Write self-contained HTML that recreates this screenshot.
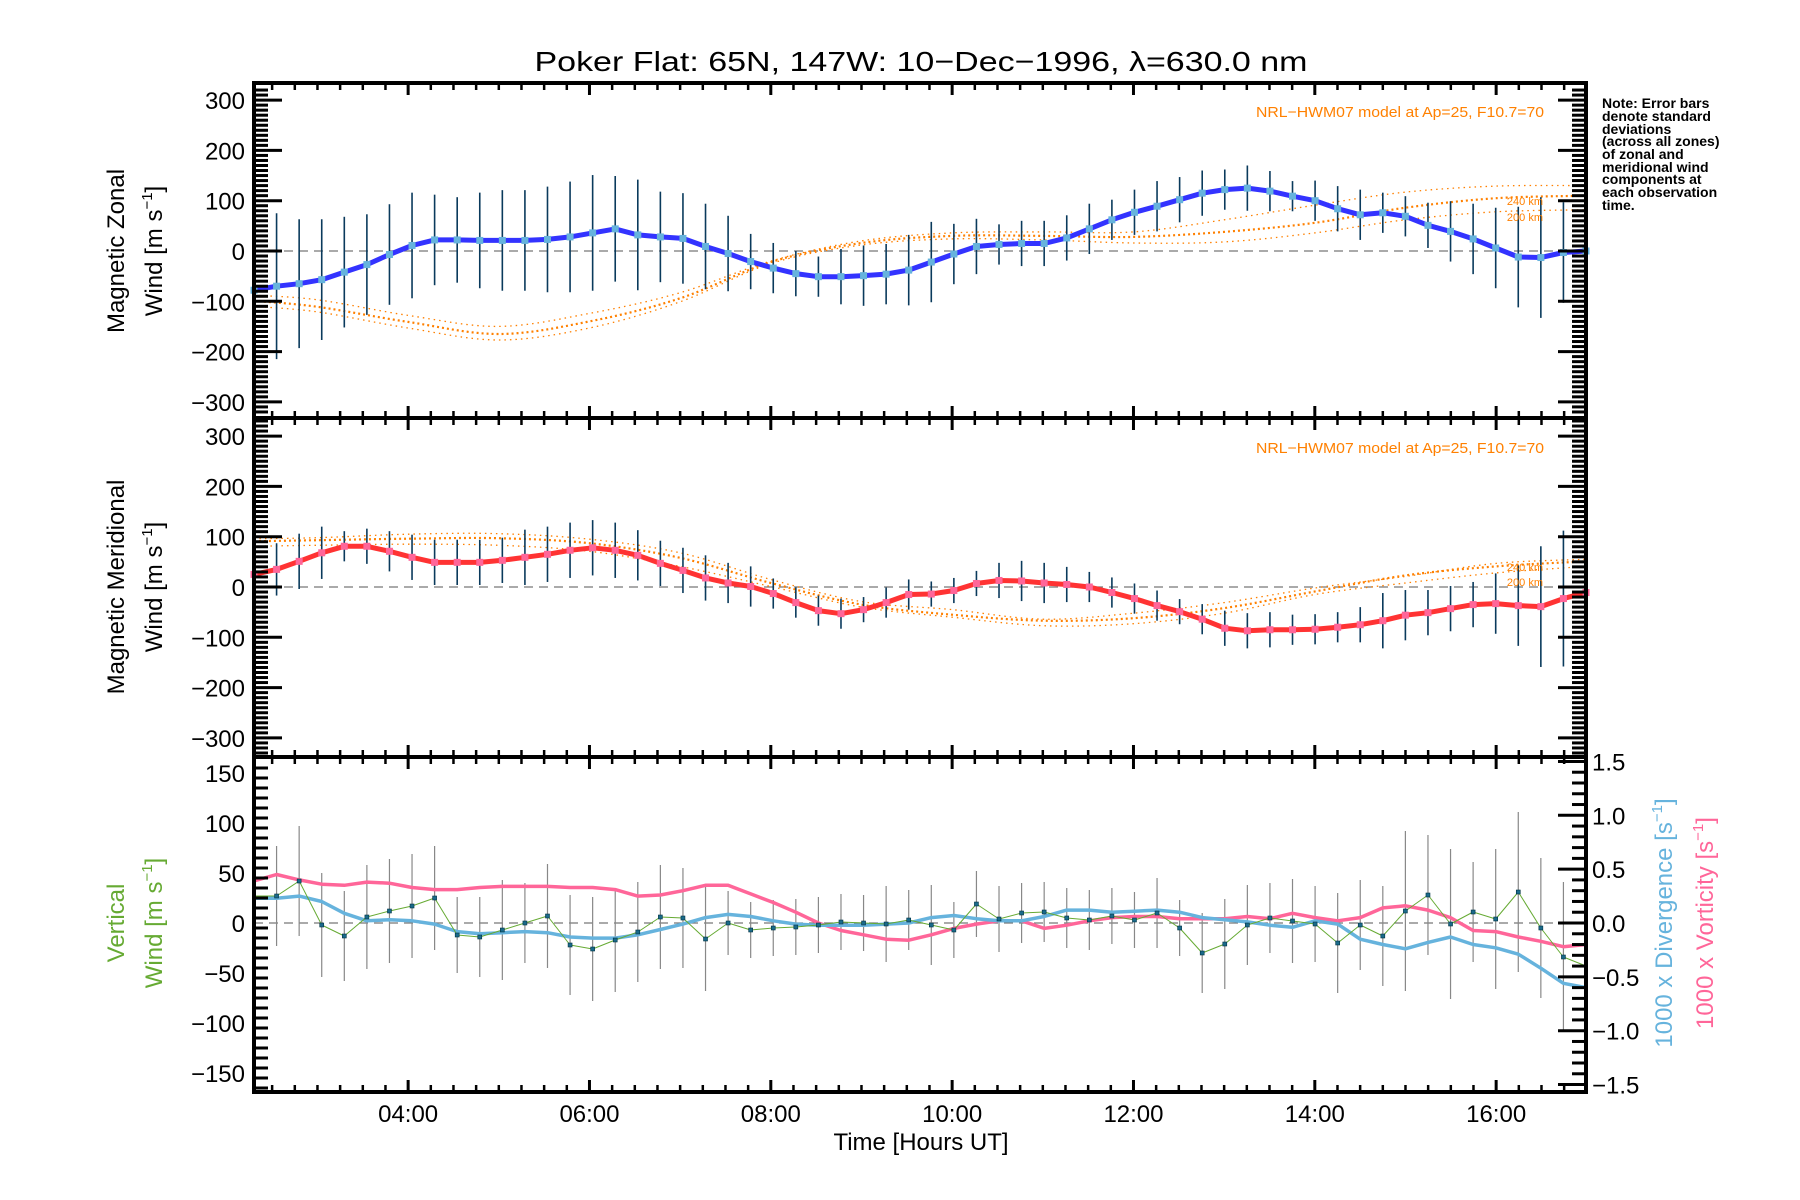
<!DOCTYPE html>
<html><head><meta charset="utf-8"><style>
html,body{margin:0;padding:0;background:#fff;}
svg{display:block;font-family:"Liberation Sans",sans-serif;}
</style></head><body>
<svg id="chart" width="1800" height="1200" viewBox="0 0 1800 1200" xmlns="http://www.w3.org/2000/svg">
<rect x="0" y="0" width="1800" height="1200" fill="#fff"/>
<text x="921" y="71" font-size="28" text-anchor="middle" textLength="773" lengthAdjust="spacingAndGlyphs">Poker Flat: 65N, 147W: 10−Dec−1996, λ=630.0 nm</text>
<g id="plots"></g>
<g id="labels">
<text transform="translate(124,251) rotate(-90)" font-size="24" text-anchor="middle">Magnetic Zonal</text>
<text transform="translate(162,251) rotate(-90)" font-size="24" text-anchor="middle">Wind [m s<tspan dy="-10" font-size="15">−1</tspan><tspan dy="10">]</tspan></text>
<text transform="translate(124,587) rotate(-90)" font-size="24" text-anchor="middle">Magnetic Meridional</text>
<text transform="translate(162,587) rotate(-90)" font-size="24" text-anchor="middle">Wind [m s<tspan dy="-10" font-size="15">−1</tspan><tspan dy="10">]</tspan></text>
<text transform="translate(124,923) rotate(-90)" font-size="24" text-anchor="middle" fill="#66aa33">Vertical</text>
<text transform="translate(162,923) rotate(-90)" font-size="24" text-anchor="middle" fill="#66aa33">Wind [m s<tspan dy="-10" font-size="15">−1</tspan><tspan dy="10">]</tspan></text>
<text transform="translate(1672,923) rotate(-90)" font-size="24" text-anchor="middle" fill="#66b3dd">1000 x Divergence [s<tspan dy="-10" font-size="15">−1</tspan><tspan dy="10">]</tspan></text>
<text transform="translate(1713,923) rotate(-90)" font-size="24" text-anchor="middle" fill="#ff6699">1000 x Vorticity [s<tspan dy="-10" font-size="15">−1</tspan><tspan dy="10">]</tspan></text>
<text x="921" y="1150" font-size="24" text-anchor="middle">Time [Hours UT]</text>
<text x="1256" y="117" font-size="15" fill="#ff8000" textLength="288" lengthAdjust="spacingAndGlyphs">NRL−HWM07 model at Ap=25, F10.7=70</text>
<text x="1256" y="453" font-size="15" fill="#ff8000" textLength="288" lengthAdjust="spacingAndGlyphs">NRL−HWM07 model at Ap=25, F10.7=70</text>
<text x="1543" y="205" font-size="11" fill="#ff8000" text-anchor="end">240 km</text>
<text x="1543" y="221" font-size="11" fill="#ff8000" text-anchor="end">200 km</text>
<text x="1543" y="571" font-size="11" fill="#ff8000" text-anchor="end">240 km</text>
<text x="1543" y="586" font-size="11" fill="#ff8000" text-anchor="end">200 km</text>
<g font-size="14" font-weight="bold">
<text x="1602" y="108">Note: Error bars</text>
<text x="1602" y="121">denote standard</text>
<text x="1602" y="134">deviations</text>
<text x="1602" y="146">(across all zones)</text>
<text x="1602" y="159">of zonal and</text>
<text x="1602" y="172">meridional wind</text>
<text x="1602" y="184">components at</text>
<text x="1602" y="197">each observation</text>
<text x="1602" y="210">time.</text>
</g>
</g>
</svg>
<script>
// ---- data ----
const zonalWind = [-78,-70,-65,-57,-42,-27,-7,11,22,22,21,21,21,23,28,36,44,32,28,25,9,-5,-21,-34,-45,-51,-51,-49,-46,-38,-22,-6,9,13,15,15,26,44,62,77,89,102,115,122,125,119,109,100,84,72,76,69,51,39,24,6,-12,-13,-3,0];
const zonalErr = [140,145,128,120,110,100,100,105,90,85,95,100,100,105,110,115,105,110,90,90,85,75,55,50,45,40,55,60,60,70,80,60,55,40,45,45,45,50,40,45,50,45,45,40,45,40,30,40,45,50,40,40,45,60,70,80,100,120,100,90];
const meridWind = [25,35,51,68,81,81,71,59,49,49,49,53,59,65,73,78,73,63,47,33,18,8,1,-13,-31,-47,-53,-45,-31,-15,-14,-7,7,13,12,8,5,0,-11,-23,-37,-49,-64,-82,-87,-85,-85,-84,-80,-75,-67,-56,-51,-43,-35,-33,-37,-39,-23,-11];
const meridErr = [45,52,55,52,30,35,40,45,45,45,45,45,55,55,55,55,55,50,45,45,45,40,40,30,30,30,30,25,30,30,25,25,25,35,40,40,35,30,30,30,30,25,30,35,35,35,30,30,30,35,55,50,45,45,45,60,80,120,135,120];
const vertWind = [27,27,42,-2,-13,6,12,17,25,-12,-14,-7,0,7,-22,-26,-17,-9,6,5,-16,0,-7,-5,-4,-2,1,0,-1,3,-2,-7,19,4,10,11,5,3,7,3,10,-5,-30,-21,-2,5,2,-1,-20,-2,-13,12,28,-1,11,4,31,-5,-34,-43];
const vertErr = [50,50,55,52,45,52,52,52,52,38,40,50,40,52,50,52,52,50,52,50,52,32,28,28,28,28,28,28,38,30,40,28,33,33,30,30,30,30,28,28,35,28,40,45,40,35,42,38,50,45,50,80,60,75,50,70,80,70,75,60];
const divergence = [0.23,0.23,0.25,0.2,0.09,0.02,0.03,0.02,-0.01,-0.08,-0.1,-0.09,-0.08,-0.09,-0.13,-0.14,-0.14,-0.11,-0.06,-0.01,0.05,0.08,0.06,0.02,-0.01,-0.02,-0.02,-0.02,-0.01,0,0.05,0.07,0.04,0.02,0.02,0.06,0.12,0.12,0.1,0.11,0.12,0.1,0.05,0.03,0.01,-0.02,-0.04,0.02,-0.01,-0.15,-0.2,-0.24,-0.18,-0.13,-0.2,-0.23,-0.29,-0.42,-0.56,-0.6];
const vorticity = [0.39,0.45,0.4,0.36,0.35,0.38,0.37,0.33,0.31,0.31,0.33,0.34,0.34,0.34,0.33,0.33,0.31,0.25,0.26,0.3,0.35,0.35,0.27,0.19,0.1,0,-0.07,-0.11,-0.15,-0.16,-0.11,-0.05,-0.01,0.02,0.02,-0.05,-0.02,0.02,0.05,0.06,0.06,0.04,0.04,0.04,0.06,0.04,0.09,0.05,0.02,0.05,0.14,0.16,0.12,0.05,-0.07,-0.08,-0.13,-0.17,-0.22,-0.2];
const modelTimes = [2.3,3,4,5,6,7,8,9,10,11,12,13,14,15,16,17];
const zonalModelUpper = [-88,-97,-128,-150,-124,-83,-20,20,36,38,38,62,91,117,129,130];
const zonalModel240 = [-99,-111,-141,-165,-140,-94,-22,16,30,30,28,38,56,86,105,110];
const zonalModel200 = [-110,-121,-153,-177,-153,-101,-25,12,24,22,16,18,36,62,78,82];
const meridModelUpper = [96,98,105,106,95,68,15,-29,-45,-64,-52,-31,-2,21,47,55];
const meridModel240 = [91,93,96,97,87,58,8,-35,-55,-67,-62,-42,-9,23,41,51];
const meridModel200 = [81,83,85,83,71,41,1,-40,-60,-77,-73,-52,-15,8,28,41];
const hourTicks = [4,6,8,10,12,14,16];
const hourLabels = ["04:00","06:00","08:00","10:00","12:00","14:00","16:00"];
const windTicks = [300,200,100,0,-100,-200,-300];
const vertTicks = [150,100,50,0,-50,-100,-150];
const rightTicks = [1.5,1.0,0.5,0.0,-0.5,-1.0,-1.5];
const rightLabels = ["1.5","1.0","0.5","0.0","−0.5","−1.0","−1.5"];
const tStart = 2.30, tStep = 0.249;

// ---- geometry ----
const L = 254, R = 1586;
const tEnd = tStart + tStep * 59;
const X = t => L + (t - tStart) / (tEnd - tStart) * (R - L);
const P = [
  {top: 83, bot: 418, zero: 251, k: 0.503},
  {top: 418, bot: 757, zero: 587, k: 0.503},
  {top: 757, bot: 1092, zero: 923, k: 1.0}
];
const Y = (p, v) => p.zero - v * p.k;
const YR = v => 923 - v * 107.7;
const times = zonalWind.map((_, i) => tStart + i * tStep);
const NS = "http://www.w3.org/2000/svg";
const root = document.getElementById('plots');
function mk(tag, attrs, parent) {
  const e = document.createElementNS(NS, tag);
  for (const k in attrs) e.setAttribute(k, attrs[k]);
  (parent || root).appendChild(e);
  return e;
}
function pathFrom(xs, ys) { return xs.map((x, i) => (i ? 'L' : 'M') + x.toFixed(1) + ' ' + ys[i].toFixed(1)).join(' '); }
function smoothPath(xs, ys) {
  let d = 'M' + xs[0] + ' ' + ys[0];
  for (let i = 0; i < xs.length - 1; i++) {
    const x0 = xs[Math.max(i - 1, 0)], y0 = ys[Math.max(i - 1, 0)];
    const x3 = xs[Math.min(i + 2, xs.length - 1)], y3 = ys[Math.min(i + 2, xs.length - 1)];
    const c1x = xs[i] + (xs[i + 1] - x0) / 6, c1y = ys[i] + (ys[i + 1] - y0) / 6;
    const c2x = xs[i + 1] - (x3 - xs[i]) / 6, c2y = ys[i + 1] - (y3 - ys[i]) / 6;
    d += ' C' + c1x.toFixed(1) + ' ' + c1y.toFixed(1) + ' ' + c2x.toFixed(1) + ' ' + c2y.toFixed(1) + ' ' + xs[i + 1].toFixed(1) + ' ' + ys[i + 1].toFixed(1);
  }
  return d;
}

// zero lines
P.forEach((p, pi) => {
  const z = mk('line', {x1: L, x2: R, y1: p.zero, y2: p.zero, stroke: '#777', 'stroke-width': 1.3, 'stroke-dasharray': '9 6'});
  
  
});

// model lines
function modelLine(arr, p, name, w, dash) {
  const e = mk('path', {d: smoothPath(modelTimes.map(X), arr.map(v => Y(p, v))), fill: 'none', stroke: '#ff8000', 'stroke-width': w, 'stroke-dasharray': dash});
  
  
}
modelLine(zonalModelUpper, P[0], 'zonal-model-upper', 1.3, '1.5 4');
modelLine(zonalModel240, P[0], 'zonal-model-240km', 2.2, '2 3');
modelLine(zonalModel200, P[0], 'zonal-model-200km', 1.3, '1.5 4');
modelLine(meridModelUpper, P[1], 'meridional-model-upper', 1.3, '1.5 4');
modelLine(meridModel240, P[1], 'meridional-model-240km', 2.2, '2 3');
modelLine(meridModel200, P[1], 'meridional-model-200km', 1.3, '1.5 4');

// error bars
function errBars(vals, errs, p, color, w, name) {
  const g = mk('g', {});
  
  
  vals.forEach((v, i) => {
    if (i === 0 || i === vals.length - 1) return;
    const x = X(times[i]);
    const top = Math.max(Y(p, v + errs[i]), p.top), bot = Math.min(Y(p, v - errs[i]), p.bot);
    const b = mk('line', {x1: x, x2: x, y1: top, y2: bot, stroke: color, 'stroke-width': w}, g);
    
    
  });
}
errBars(zonalWind, zonalErr, P[0], '#0a3a5c', 1.6, 'zonal-error-bars');
errBars(meridWind, meridErr, P[1], '#0a3a5c', 1.6, 'meridional-error-bars');
errBars(vertWind, vertErr, P[2], '#888', 1.2, 'vertical-error-bars');

// main lines
function series(vals, yf, color, w, name, dotColor, dotSize) {
  const xs = times.map(X), ys = vals.map(yf);
  const e = mk('path', {d: pathFrom(xs, ys), fill: 'none', stroke: color, 'stroke-width': w, 'stroke-linejoin': 'round'});
  
  
  if (dotColor) {
    const g = mk('g', {});
    
    
    xs.forEach((x, i) => {
      const r = mk('rect', {x: x - dotSize / 2, y: ys[i] - dotSize / 2, width: dotSize, height: dotSize, fill: dotColor}, g);
      
      
    });
  }
}
series(zonalWind, v => Y(P[0], v), '#3333ff', 5, 'zonal-wind-line', '#66b3dd', 7);
series(meridWind, v => Y(P[1], v), '#ff3333', 5, 'meridional-wind-line', '#ff6699', 7);
series(vorticity, YR, '#ff6699', 3.5, 'vorticity-line');
series(divergence, YR, '#66b3dd', 3.5, 'divergence-line');
series(vertWind, v => Y(P[2], v), '#66aa33', 1, 'vertical-wind-line');
(function () {
  const g = mk('g', {});
  
  
  vertWind.forEach((v, i) => {
    if (i === 0 || i === vertWind.length - 1) return;
    const r = mk('rect', {x: X(times[i]) - 2, y: Y(P[2], v) - 2, width: 4, height: 4, fill: '#1a6a8a', stroke: '#003344', 'stroke-width': 0.6}, g);
    
    
  });
})();

// axes
const ax = mk('g', {});


P.forEach((p, pi) => {
  const fr = mk('rect', {x: L, y: p.top, width: R - L, height: p.bot - p.top, fill: 'none', stroke: '#000', 'stroke-width': 4}, ax);
  
  
  for (let t = 2.5; t <= tEnd + 0.001; t += 0.25) {
    const x = X(t);
    if (x < L + 2 || x > R - 2) continue;
    const major = Math.abs(t / 2 - Math.round(t / 2)) < 0.01;
    const len = major ? 12 : 7;
    mk('line', {x1: x, x2: x, y1: p.top, y2: p.top + len, stroke: '#000', 'stroke-width': major ? 3 : 2.5}, ax);
    mk('line', {x1: x, x2: x, y1: p.bot, y2: p.bot - len, stroke: '#000', 'stroke-width': major ? 3 : 2.5}, ax);
  }
  const lim = pi < 2 ? 330 : 165, step = 10, majorStep = pi < 2 ? 100 : 50;
  for (let v = -lim; v <= lim; v += step) {
    const y = Y(p, v);
    if (y < p.top + 3 || y > p.bot - 3) continue;
    const major = v % majorStep === 0;
    const len = major ? 28 : 14;
    mk('line', {x1: L, x2: L + len, y1: y, y2: y, stroke: '#000', 'stroke-width': 3}, ax);
    if (pi < 2) mk('line', {x1: R, x2: R - len, y1: y, y2: y, stroke: '#000', 'stroke-width': 3}, ax);
  }
});
for (let k = -15; k <= 15; k++) {
  const y = YR(k / 10);
  if (y < P[2].top + 3 || y > P[2].bot - 3) continue;
  const major = k % 5 === 0;
  mk('line', {x1: R, x2: R - (major ? 28 : 14), y1: y, y2: y, stroke: '#000', 'stroke-width': 3}, ax);
}
const tl = mk('g', {'font-size': 24});


[0, 1].forEach(pi => windTicks.forEach(v => {
  const t = mk('text', {x: 245, y: Y(P[pi], v) + 9, 'text-anchor': 'end'}, tl);
  t.textContent = v < 0 ? '−' + (-v) : String(v);
  
  
}));
vertTicks.forEach(v => {
  const t = mk('text', {x: 245, y: Y(P[2], v) + 9, 'text-anchor': 'end'}, tl);
  t.textContent = v < 0 ? '−' + (-v) : String(v);
  
  
});
rightTicks.forEach((v, i) => {
  const t = mk('text', {x: 1592, y: YR(v) + 9, 'text-anchor': 'start'}, tl);
  t.textContent = rightLabels[i];
  
  
});
hourTicks.forEach((h, i) => {
  const t = mk('text', {x: X(h), y: 1122, 'text-anchor': 'middle'}, tl);
  t.textContent = hourLabels[i];
  
  
});
</script>
</body></html>
